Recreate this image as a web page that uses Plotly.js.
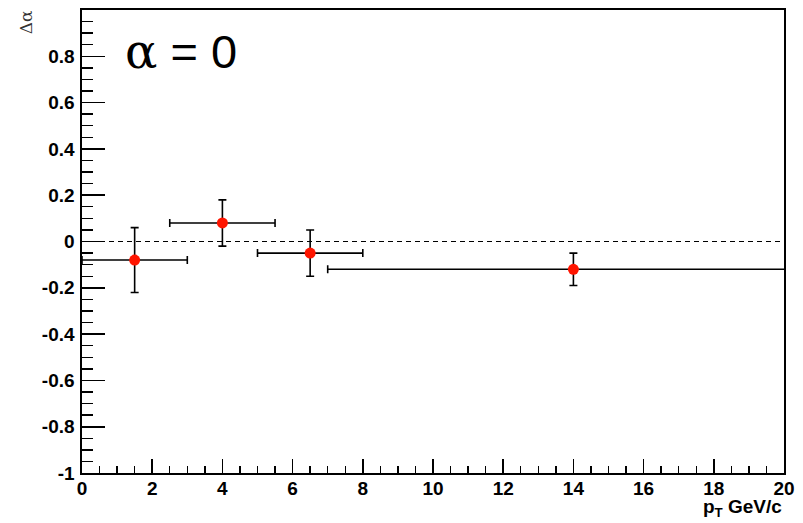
<!DOCTYPE html>
<html><head><meta charset="utf-8">
<script src="https://cdn.plot.ly/plotly-3.0.1.min.js"></script>
<style>html,body{margin:0;padding:0;background:#fff;}</style>
</head><body>
<div id="chart" style="width:803px;height:523px;"></div>
<script>
// Data
const ptCenters = [1.5, 4, 6.5, 14];
const ptHalfWidths = [1.5, 1.5, 1.5, 7];
const deltaAlpha = [-0.08, 0.08, -0.05, -0.12];
const deltaAlphaErr = [0.14, 0.10, 0.10, 0.07];
const refLineX = [0, 20];
const refLineY = [0, 0];
const xTickVals = [0, 2, 4, 6, 8, 10, 12, 14, 16, 18, 20];
const xTickText = ['0','2','4','6','8','10','12','14','16','18','20'];
const yTickVals = [-1, -0.8, -0.6, -0.4, -0.2, 0, 0.2, 0.4, 0.6, 0.8, 1];
const yTickText = ['-1','-0.8','-0.6','-0.4','-0.2','0','0.2','0.4','0.6','0.8','1'];

const tickFont = {family: 'Liberation Sans, Arial, sans-serif', size: 19, color: '#000', weight: 'bold'};

const traces = [
  {
    x: refLineX, y: refLineY, type: 'scatter', mode: 'lines',
    line: {color: '#000', width: 1.2, dash: '5px,4px'},
    hoverinfo: 'skip', showlegend: false
  },
  {
    x: ptCenters, y: deltaAlpha, type: 'scatter', mode: 'markers',
    marker: {color: '#ff1500', size: 11, symbol: 'circle'},
    error_x: {type: 'data', array: ptHalfWidths, visible: true, color: '#000', thickness: 1.6, width: 4},
    error_y: {type: 'data', array: deltaAlphaErr, visible: true, color: '#000', thickness: 1.6, width: 4},
    showlegend: false
  }
];

const layout = {
  width: 803, height: 523,
  margin: {l: 82, r: 19, t: 10, b: 50},
  paper_bgcolor: '#fff', plot_bgcolor: '#fff',
  showlegend: false,
  xaxis: {
    range: [0, 20], showgrid: false, zeroline: false,
    showline: true, linecolor: '#000', linewidth: 1.6, mirror: true,
    ticks: 'inside', ticklen: 14, tickwidth: 1.6, tickcolor: '#000',
    tickmode: 'array', tickvals: xTickVals, ticktext: xTickText,
    tickfont: tickFont, ticklabelstandoff: -2,
    minor: {dtick: 0.5, ticks: 'inside', ticklen: 7, tickwidth: 1.4, tickcolor: '#000', showgrid: false}
  },
  yaxis: {
    range: [-1, 1], showgrid: false, zeroline: false,
    showline: true, linecolor: '#000', linewidth: 1.6, mirror: true,
    ticks: 'inside', ticklen: 23, tickwidth: 1.6, tickcolor: '#000',
    tickmode: 'array', tickvals: yTickVals, ticktext: yTickText,
    tickfont: tickFont, ticklabelstandoff: 2,
    minor: {dtick: 0.05, ticks: 'inside', ticklen: 11, tickwidth: 1.4, tickcolor: '#000', showgrid: false}
  },
  annotations: [
    {
      xref: 'paper', yref: 'paper', x: 0.058, y: 0.911, xanchor: 'left', yanchor: 'middle',
      text: '<span style="font-family:DejaVu Serif;font-size:48px">α</span> = 0',
      showarrow: false,
      font: {family: 'Liberation Sans, Arial, sans-serif', size: 47, color: '#000'}
    },
    {
      xref: 'paper', yref: 'paper', x: -0.08, y: 0.973, xanchor: 'center', yanchor: 'middle',
      text: 'Δα', textangle: -90, showarrow: false,
      font: {family: 'DejaVu Serif, serif', size: 17, color: '#333'}
    },
    {
      xref: 'paper', yref: 'paper', x: 1.0, y: -0.076, xanchor: 'right', yanchor: 'middle',
      text: 'p<sub>T</sub> GeV/c', showarrow: false,
      font: {family: 'Liberation Sans, Arial, sans-serif', size: 19, color: '#000', weight: 'bold'}
    }
  ]
};

Plotly.newPlot('chart', traces, layout, {displayModeBar: false, staticPlot: true});
</script>
</body></html>
